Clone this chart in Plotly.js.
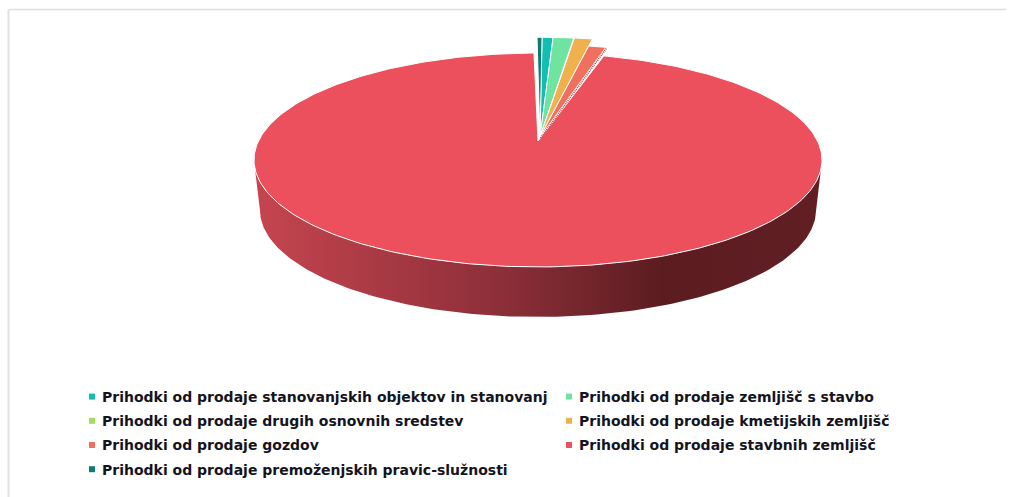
<!DOCTYPE html>
<html><head><meta charset="utf-8">
<script src="https://cdn.plot.ly/plotly-3.0.1.min.js"></script>
<style>html,body{margin:0;padding:0;background:#fff}#c{width:1018px;height:497px}</style>
</head><body><div id="c"></div>
<script>
// Data: share of revenue in percent, in legend order
const categories = [
  "Prihodki od prodaje stanovanjskih objektov in stanovanj",
  "Prihodki od prodaje zemljišč s stavbo",
  "Prihodki od prodaje drugih osnovnih sredstev",
  "Prihodki od prodaje kmetijskih zemljišč",
  "Prihodki od prodaje gozdov",
  "Prihodki od prodaje stavbnih zemljišč",
  "Prihodki od prodaje premoženjskih pravic-služnosti"
];
const shares = [0.655, 1.22, 0.04, 1.08, 1.12, 95.59, 0.3];
const colors = ["#12BDB2", "#6FE3A0", "#A9DC5C", "#F0B04E", "#F0705F", "#EC505C", "#0C7D70"];

// Geometry of the tilted pie (perspective mapping of a unit disc)
const PIE = {cx:538, cy:141, a:279.5, b:103.6, k:0.1775, start:0.44};
const radius = [1.16,1.16,1.16,1.16,1.06,1,1.16];
const shiftX = [2,2,2,2,2,0,2], shiftY = [-4,-4,-4,-4,-4,0,-4];
const insetStart = [0,0,0,0,0,0.75,0], insetEnd = [0,0,0,0,0,0.33,0];

function project(deg, r){
  const t = deg*Math.PI/180, u = r*Math.sin(t), v = -r*Math.cos(t), w = 1-PIE.k*v;
  return [PIE.cx+PIE.a*u/w, PIE.cy+PIE.b*v/w];
}
const total = shares.reduce((s,v)=>s+v,0);
let cursor = PIE.start;
const traces = [];

// Side wall: front half of the top rim joined to the front half of the lower rim
const wx=[], wy=[];
for(let d=90+10.2;d<=270-10.2;d+=1){const p=project(d,1);wx.push(p[0]);wy.push(p[1]);}
const wallDrop=50, wallShrink=0.979;
for(let d=270-10.2;d>=90+10.2;d-=1){const p=project(d,1);wx.push(PIE.cx+(p[0]-PIE.cx)*wallShrink);wy.push(p[1]+wallDrop);}
wx.push(wx[0]);wy.push(wy[0]);
traces.push({x:wx,y:wy,mode:'lines',line:{width:0},fill:'toself',hoverinfo:'skip',showlegend:false,
  fillgradient:{type:'horizontal',colorscale:[[0,'#C6454F'],[0.45,'#8A2E38'],[0.72,'#5B1C20'],[1,'#611F24']]}});

const slices=[];
shares.forEach((val,i)=>{
  const sweep = val/total*360, a0=cursor+insetStart[i], a1=cursor+sweep-insetEnd[i];
  const xs=[PIE.cx+shiftX[i]], ys=[PIE.cy+shiftY[i]];
  const n=Math.max(2,Math.ceil((a1-a0)/1));
  for(let j=0;j<=n;j++){const p=project(a0+(a1-a0)*j/n,radius[i]);xs.push(p[0]+shiftX[i]);ys.push(p[1]+shiftY[i]);}
  xs.push(xs[0]);ys.push(ys[0]);
  slices.push({i,tr:{x:xs,y:ys,mode:'lines',fill:'toself',fillcolor:colors[i],hoverinfo:'skip',showlegend:false,
    line:{color:'#FFFFFF',width:1}}});
  cursor+=sweep;
});
slices.sort((p,q)=>(q.i===5)-(p.i===5)).forEach(s=>traces.push(s.tr));

// Thin dark side edge of the coral slice
(function(){
  const t=slices.find(s=>s.i===4).tr, m=t.x.length-2;
  traces.push({x:[t.x[0]+0.5,t.x[m]+0.5],y:[t.y[0]+1,t.y[m]+1],mode:'lines',hoverinfo:'skip',showlegend:false,
    line:{color:'#A0524E',width:1.6,dash:'1px,1px'}});
})();

// Legend entries: two columns, filled row by row
categories.forEach((name,i)=>{
  traces.push({x:[null],y:[null],mode:'markers',name,legendgroup:'g'+i,
    legend:(i%2===0)?'legend':'legend2',
    marker:{symbol:'square',size:6,color:colors[i]},hoverinfo:'skip',showlegend:true});
});

const legendFont={family:'"DejaVu Sans",sans-serif',size:14,color:'#14141E',weight:700};
const W=1018,H=497;
const layout={width:W,height:H,margin:{l:0,r:0,t:0,b:0},paper_bgcolor:'#fff',plot_bgcolor:'#fff',
  xaxis:{range:[0,W],visible:false,fixedrange:true},
  yaxis:{range:[H,0],visible:false,fixedrange:true},
  legend:{x:62/W,xanchor:'left',y:1-381/H,yanchor:'top',font:legendFont,tracegroupgap:3,bgcolor:'rgba(0,0,0,0)',itemclick:false,itemdoubleclick:false},
  legend2:{x:539/W,xanchor:'left',y:1-381/H,yanchor:'top',font:legendFont,tracegroupgap:3,bgcolor:'rgba(0,0,0,0)',itemclick:false,itemdoubleclick:false},
  shapes:[
    {type:'line',xref:'paper',yref:'paper',x0:8.5/W,x1:1006/W,y0:1-9.5/H,y1:1-9.5/H,line:{color:'#DDDDDD',width:1.5}},
    {type:'line',xref:'paper',yref:'paper',x0:8.5/W,x1:8.5/W,y0:1-9.5/H,y1:0,line:{color:'#E2E2E2',width:2}}
  ]};
Plotly.newPlot('c',traces,layout,{displayModeBar:false}).then(()=>{
  document.querySelectorAll('.legendsymbols').forEach(g=>g.setAttribute('transform','translate(10,0)'));
});
</script></body></html>
